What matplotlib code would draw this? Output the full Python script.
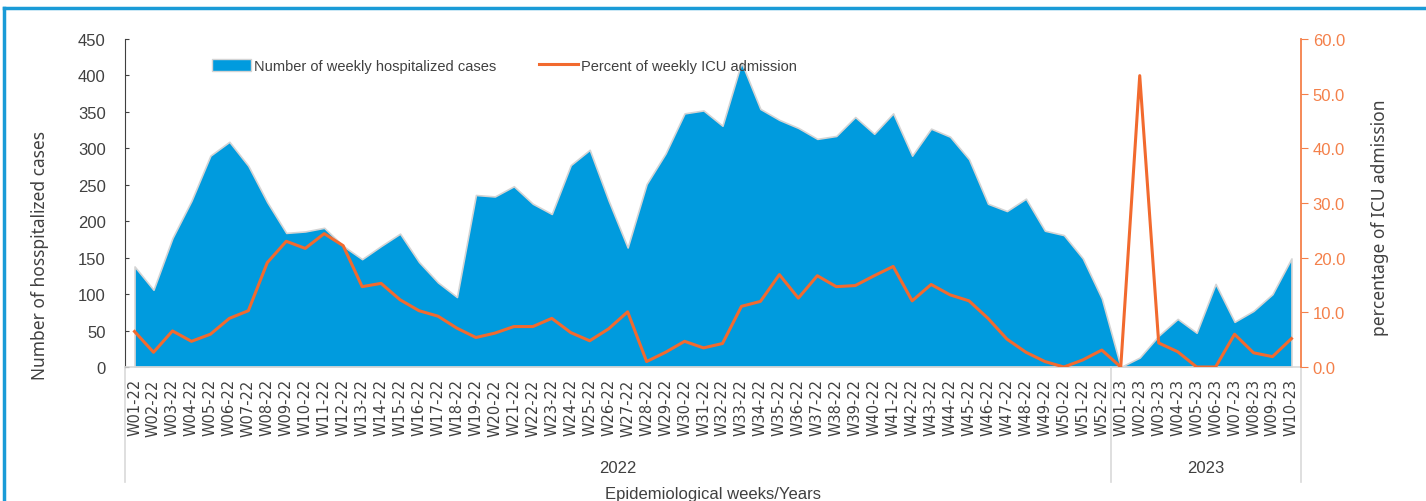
import matplotlib
matplotlib.use('Agg')
import matplotlib.pyplot as plt
import matplotlib.transforms as mtransforms
from matplotlib.lines import Line2D
from matplotlib.patches import Patch

# weekly data, W01-22 .. W10-23
weeks_2022 = ['W%02d-22' % i for i in range(1, 53)]
weeks_2023 = ['W%02d-23' % i for i in range(1, 11)]
weeks = weeks_2022 + weeks_2023

hospitalized = [138, 106, 177, 228, 290, 309, 276, 226, 184, 186,
                191, 166, 148, 166, 183, 144, 116, 96, 236, 234,
                248, 224, 210, 277, 298, 228, 164, 251, 293, 348,
                352, 331, 418, 354, 339, 328, 313, 317, 343, 320,
                348, 290, 327, 316, 285, 224, 214, 231, 187, 181,
                149, 94,
                0, 13, 43, 66, 47, 114, 62, 77, 100, 149]

icu_pct = [6.5, 2.7, 6.6, 4.7, 6.0, 8.9, 10.3, 19.1, 23.0, 21.7,
           24.4, 22.2, 14.7, 15.3, 12.3, 10.3, 9.3, 7.1, 5.4, 6.2,
           7.4, 7.4, 8.9, 6.3, 4.8, 7.0, 10.1, 1.0, 2.7, 4.7,
           3.5, 4.3, 11.1, 12.0, 16.9, 12.6, 16.7, 14.7, 14.9, 16.7,
           18.4, 12.1, 15.1, 13.2, 12.1, 8.9, 5.1, 2.7, 1.0, 0.0,
           1.3, 3.1,
           0.0, 53.3, 4.4, 2.8, 0.0, 0.0, 6.0, 2.6, 1.9, 5.2]

years = ['2022', '2023']

BLUE = '#009BDE'
ORANGE = '#F26A2E'
ORANGE_LT = '#F4804A'
DARK = '#404040'
NARROW = ['Liberation Sans', 'DejaVu Sans']

fig = plt.figure(figsize=(14.26, 5.02), dpi=100)
ax = fig.add_axes([0.0877, 0.2669, 0.8246, 0.6534])

x = list(range(len(weeks)))
ax.fill_between(x, hospitalized, 0, color=BLUE, edgecolor='#d4d4d4', linewidth=1.2, zorder=2)
ax.set_xlim(-0.5, len(weeks) - 0.5)
ax.set_ylim(0, 450)
ax.set_yticks(range(0, 451, 50))
ax.tick_params(axis='y', direction='in', length=3, color=DARK, labelsize=12, labelcolor=DARK, pad=14)
for lab in ax.get_yticklabels():
    lab.set_family(NARROW)
ax.set_xticks(x)
ax.set_xticklabels(weeks, rotation=90, fontsize=10.5, color=DARK)
ax.tick_params(axis='x', length=0, pad=8)

for s in ['top', 'right']:
    ax.spines[s].set_visible(False)
ax.spines['left'].set_color(DARK)
ax.spines['bottom'].set_color('#d9d9d9')
ax.spines['bottom'].set_linewidth(1.2)

ax2 = ax.twinx()
ax2.plot(x, icu_pct, color=ORANGE, linewidth=2.2, zorder=3)
ax2.set_ylim(0, 60)
ax2.set_yticks(range(0, 61, 10))
ax2.set_yticklabels(['%.1f' % v for v in range(0, 61, 10)], family=NARROW)
ax2.tick_params(axis='y', length=5, color=ORANGE_LT, labelsize=12, labelcolor=ORANGE_LT)
for s in ['top', 'left', 'bottom']:
    ax2.spines[s].set_visible(False)
ax2.spines['right'].set_color(ORANGE_LT)
ax2.spines['right'].set_linewidth(1.3)

# axis titles
fig.text(0.028, 0.492, 'Number of hosspitalized cases', rotation=90, ha='center', va='center',
         fontsize=12.5, color=DARK, family=['Noto Sans', 'DejaVu Sans'])
fig.text(0.968, 0.566, 'percentage of ICU admission', rotation=90, ha='center', va='center',
         fontsize=12.5, color=DARK, family=['Noto Sans', 'DejaVu Sans'])

# two-level x axis: year groups
trans = mtransforms.blended_transform_factory(ax.transData, ax.transAxes)
n22 = len(weeks_2022)
for xs in [-0.5, n22 - 0.5, len(weeks) - 0.5]:
    ax.add_line(Line2D([xs, xs], [0, -0.35], transform=trans, color='#d9d9d9',
                       linewidth=1.2, clip_on=False))
centers = [(n22 - 1) / 2, n22 + (len(weeks_2023) - 1) / 2]
for cx, yr in zip(centers, years):
    ax.text(cx, -0.305, yr, transform=trans, ha='center', va='center',
            fontsize=12, color=DARK, family=NARROW)
ax.text(0.5, -0.385, 'Epidemiological weeks/Years', transform=ax.transAxes, ha='center',
        va='center', fontsize=12, color=DARK, family=NARROW)

# legend
handles = [Patch(facecolor=BLUE, edgecolor='#d4d4d4'),
           Line2D([0], [0], color=ORANGE, linewidth=2.2)]
leg = ax.legend(handles, ['Number of weekly hospitalized cases', 'Percent of weekly ICU admission'],
                loc='center left', bbox_to_anchor=(0.0675, 0.918), ncol=2, frameon=False,
                borderpad=0, prop={'family': NARROW, 'size': 10.5}, handlelength=2.7,
                handleheight=0.9, columnspacing=2.9, handletextpad=0.2)
for t in leg.get_texts():
    t.set_color(DARK)

# light blue frame
fig.add_artist(Line2D([0.003, 1.0], [1 - 9 / 502, 1 - 9 / 502], transform=fig.transFigure,
                      color='#1A9BD7', linewidth=2.5))
fig.add_artist(Line2D([4 / 1426, 4 / 1426], [0, 1 - 9 / 502], transform=fig.transFigure,
                      color='#1A9BD7', linewidth=2.5))

fig.savefig('out.png', dpi=100)
